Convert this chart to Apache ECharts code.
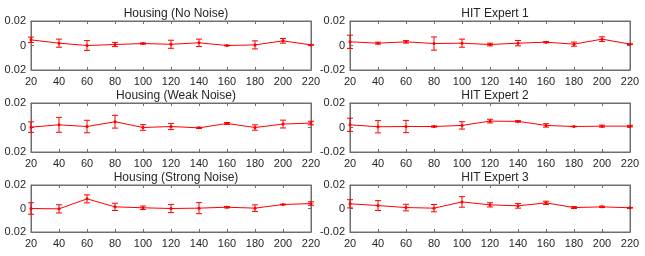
<!DOCTYPE html>
<html>
<head>
<meta charset="utf-8">
<script src="https://cdn.jsdelivr.net/npm/echarts@6/dist/echarts.min.js"></script>
<style>
  html, body { margin: 0; padding: 0; background: #fff; }
  #chart { width: 645px; height: 256px; }
</style>
</head>
<body>
<div id="chart"></div>
<script>
// x positions shared by all panels
const xValues = [20, 40, 60, 80, 100, 120, 140, 160, 180, 200, 220];

const titles = [
  "Housing (No Noise)", "HIT Expert 1",
  "Housing (Weak Noise)", "HIT Expert 2",
  "Housing (Strong Noise)", "HIT Expert 3"
];

// means and error half-widths
const meanNoNoise = [0.0046, 0.0019, 0.0, 0.0008, 0.0016, 0.001, 0.0022, 0.0, 0.0005, 0.0038, 0.0005];
const errNoNoise = [0.0022, 0.0033, 0.004, 0.0017, 0.0005, 0.0033, 0.003, 0.0003, 0.0033, 0.0019, 0.0002];

const meanExpert1 = [0.003, 0.0019, 0.003, 0.0016, 0.0019, 0.0008, 0.0019, 0.0027, 0.0011, 0.0052, 0.0011];
const errExpert1 = [0.0054, 0.0008, 0.001, 0.0054, 0.0033, 0.0011, 0.0022, 0.0005, 0.0017, 0.0019, 0.0002];

const meanWeak = [0.0003, 0.0022, 0.0008, 0.0047, 0.0, 0.0008, -0.0003, 0.0033, 0.0, 0.0028, 0.0036];
const errWeak = [0.0043, 0.0061, 0.0051, 0.0052, 0.0023, 0.0025, 0.0005, 0.0008, 0.0022, 0.0032, 0.0015];

const meanExpert2 = [0.0022, 0.0006, 0.0008, 0.0008, 0.0017, 0.0052, 0.005, 0.0017, 0.0008, 0.0011, 0.0011];
const errExpert2 = [0.0054, 0.005, 0.005, 0.0005, 0.003, 0.0015, 0.0006, 0.0014, 0.0002, 0.0008, 0.0006];

const meanStrong = [0.0, -0.0003, 0.0082, 0.0014, 0.0006, 0.0, 0.0003, 0.0011, 0.0003, 0.0034, 0.0042];
const errStrong = [0.0049, 0.0035, 0.0034, 0.0031, 0.0015, 0.0035, 0.0047, 0.0006, 0.0028, 0.0003, 0.0015];

const meanExpert3 = [0.004, 0.0025, 0.0008, 0.0003, 0.0056, 0.0031, 0.0023, 0.0048, 0.0008, 0.0014, 0.0006];
const errExpert3 = [0.0035, 0.0042, 0.0028, 0.0031, 0.0045, 0.0018, 0.002, 0.0014, 0.0008, 0.0006, 0.0003];

const panelMeans = [meanNoNoise, meanExpert1, meanWeak, meanExpert2, meanStrong, meanExpert3];
const panelErrs = [errNoNoise, errExpert1, errWeak, errExpert2, errStrong, errExpert3];

// y tick labels as printed (left column lost its minus sign in the figure)
const leftYLabels = { "-0.02": "0.02", "0": "0", "0.02": "0.02" };
const rightYLabels = { "-0.02": "-0.02", "0": "0", "0.02": "0.02" };

const colLeft = [31, 350];
const colWidth = 280;
const rowTop = [21, 103, 185];
const rowHeight = [49, 49, 47];
const titleTop = [3, 85, 167];

const boxColor = "#6e6e6e";
const textColor = "#262626";
const lineColor = "#ff0000";

let grids = [], xAxes = [], yAxes = [], series = [], titleList = [];

function yKey(v) {
  if (Math.abs(v) < 1e-9) return "0";
  return (Math.round(v * 100) / 100).toString();
}

for (let i = 0; i < 6; i++) {
  let row = Math.floor(i / 2), col = i % 2;
  grids.push({
    left: colLeft[col], top: rowTop[row], width: colWidth, height: rowHeight[row],
    show: true, borderColor: boxColor, borderWidth: 1, backgroundColor: "#fff"
  });
  titleList.push({
    text: titles[i],
    left: colLeft[col] + colWidth / 2, top: titleTop[row], textAlign: "center",
    textStyle: { fontFamily: "Liberation Sans", fontSize: 12, fontWeight: "normal", color: textColor }
  });
  let tickStyle = { show: true, inside: true, length: 3, lineStyle: { color: boxColor, width: 1 } };
  let lineStyle = { show: true, onZero: false, lineStyle: { color: boxColor, width: 1 } };
  // bottom axis with labels
  xAxes.push({
    gridIndex: i, type: "value", min: 20, max: 220, interval: 20, position: "bottom",
    axisLine: lineStyle, axisTick: tickStyle, splitLine: { show: false },
    axisLabel: { margin: 6, fontFamily: "Liberation Sans", fontSize: 11, color: textColor }
  });
  // top axis, ticks only
  xAxes.push({
    gridIndex: i, type: "value", min: 20, max: 220, interval: 20, position: "top",
    axisLine: lineStyle, axisTick: tickStyle, splitLine: { show: false }, axisLabel: { show: false }
  });
  let labels = col === 0 ? leftYLabels : rightYLabels;
  yAxes.push({
    gridIndex: i, type: "value", min: -0.02, max: 0.02, interval: 0.02, position: "left",
    axisLine: lineStyle, axisTick: tickStyle, splitLine: { show: false },
    axisLabel: {
      margin: 5, fontFamily: "Liberation Sans", fontSize: 11, color: textColor,
      formatter: v => labels[yKey(v)]
    }
  });
  yAxes.push({
    gridIndex: i, type: "value", min: -0.02, max: 0.02, interval: 0.02, position: "right",
    axisLine: lineStyle, axisTick: tickStyle, splitLine: { show: false }, axisLabel: { show: false }
  });

  let means = panelMeans[i], errs = panelErrs[i];
  series.push({
    type: "line", xAxisIndex: 2 * i, yAxisIndex: 2 * i,
    data: xValues.map((x, k) => [x, means[k]]),
    symbol: "circle", symbolSize: 3, showSymbol: true,
    lineStyle: { color: lineColor, width: 1 },
    itemStyle: { color: lineColor },
    animation: false, z: 3
  });
  series.push({
    type: "custom", xAxisIndex: 2 * i, yAxisIndex: 2 * i,
    data: xValues.map((x, k) => [x, means[k] - errs[k], means[k] + errs[k]]),
    renderItem: function (params, api) {
      let lo = api.coord([api.value(0), api.value(1)]);
      let hi = api.coord([api.value(0), api.value(2)]);
      let cw = 3;
      let style = { stroke: lineColor, lineWidth: 1, fill: null };
      return {
        type: "group",
        children: [
          { type: "line", shape: { x1: lo[0], y1: lo[1], x2: hi[0], y2: hi[1] }, style: style },
          { type: "line", shape: { x1: lo[0] - cw, y1: lo[1], x2: lo[0] + cw, y2: lo[1] }, style: style },
          { type: "line", shape: { x1: hi[0] - cw, y1: hi[1], x2: hi[0] + cw, y2: hi[1] }, style: style }
        ]
      };
    },
    animation: false, z: 4
  });
}

let myChart = echarts.init(document.getElementById("chart"));
myChart.setOption({
  animation: false,
  title: titleList,
  grid: grids,
  xAxis: xAxes,
  yAxis: yAxes,
  series: series
});
</script>
</body>
</html>
